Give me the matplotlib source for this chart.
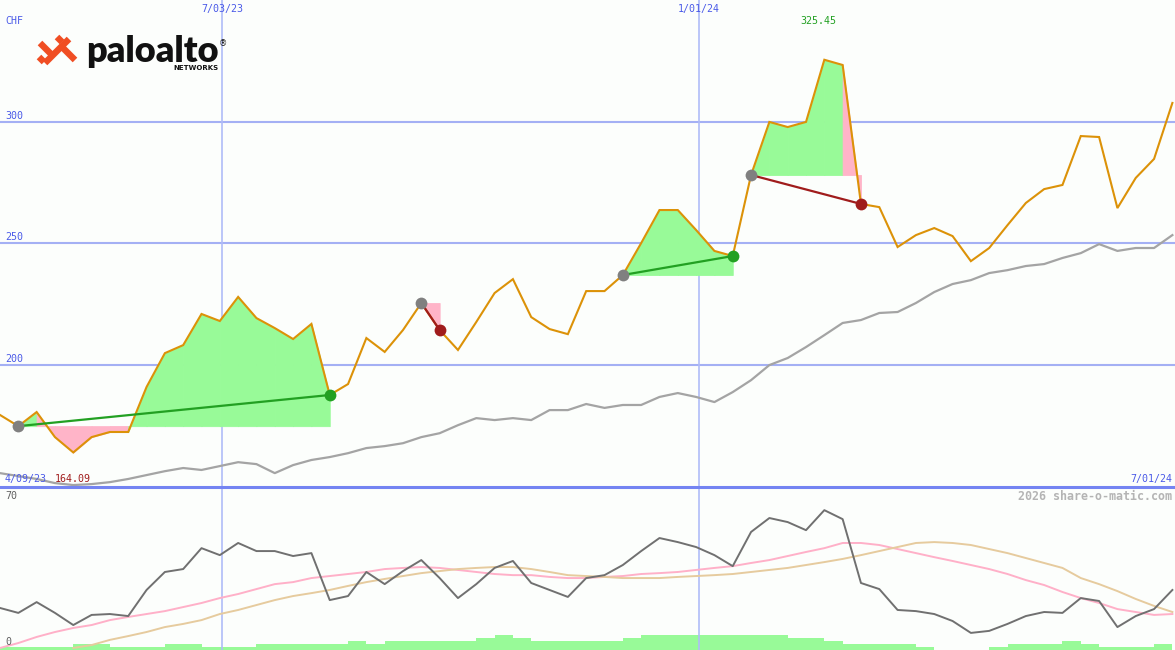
import datetime as dt
import matplotlib
matplotlib.use("Agg")
import matplotlib.pyplot as plt
import matplotlib.dates as mdates
from matplotlib.patches import Polygon

# ---------------- data ----------------
start_date = dt.date(2023, 4, 9)
end_date = dt.date(2024, 7, 1)
vline_dates = [dt.date(2023, 7, 3), dt.date(2024, 1, 1)]
currency = "CHF"
price_grid = [200, 250, 300]
osc_labels = [0, 70]
watermark = "2026 share-o-matic.com"

price = [179.5, 174.9, 180.7, 170.4, 164.09, 170.4, 172.5, 172.5, 191.0, 204.9,
         208.2, 221.0, 218.1, 228.0, 219.3, 215.2, 210.7, 216.9, 187.7, 192.2,
         211.1, 205.4, 214.4, 225.5, 214.4, 206.2, 217.7, 229.6, 235.3, 219.7,
         214.8, 212.7, 230.4, 230.4, 237.0, 250.1, 263.7, 263.7, 255.5, 246.9,
         244.8, 278.1, 299.9, 297.8, 299.9, 325.45, 323.3, 266.2, 264.9, 248.5,
         253.4, 256.3, 253.0, 242.7, 248.1, 257.5, 266.6, 272.3, 274.0, 294.1,
         293.7, 264.5, 276.9, 284.7, 307.7]

moving_avg = [155.6, 154.4, 153.2, 151.5, 150.7, 151.1, 151.9, 153.2, 154.8, 156.4,
              157.7, 156.9, 158.5, 160.1, 159.3, 155.6, 158.9, 161.0, 162.2, 163.8,
              165.9, 166.7, 167.9, 170.4, 172.0, 175.3, 178.2, 177.4, 178.2, 177.4,
              181.5, 181.5, 184.0, 182.4, 183.6, 183.6, 186.9, 188.5, 186.9, 184.8,
              188.9, 193.8, 200.0, 202.9, 207.4, 212.3, 217.3, 218.5, 221.4, 221.8,
              225.5, 230.0, 233.3, 234.9, 237.8, 239.0, 240.7, 241.5, 244.0, 246.0,
              249.7, 246.9, 248.1, 248.1, 253.4]

oscillator = [17.8, 15.6, 20.4, 15.6, 10.2, 14.7, 15.1, 14.2, 25.8, 33.8,
              35.1, 44.4, 41.3, 46.7, 43.1, 43.1, 40.9, 42.2, 21.3, 23.1,
              33.8, 28.4, 34.2, 39.1, 31.1, 22.2, 28.4, 35.6, 38.7, 28.9,
              25.8, 22.7, 31.1, 32.4, 36.9, 43.1, 48.9, 47.1, 44.9, 41.3,
              36.4, 51.6, 57.8, 56.0, 52.4, 61.3, 57.3, 28.9, 26.2, 16.9,
              16.4, 15.1, 12.0, 6.7, 7.6, 10.7, 14.2, 16.0, 15.6, 22.2,
              20.9, 9.3, 14.2, 17.3, 25.8]

osc_fast = [0.0, 2.2, 4.9, 7.1, 8.9, 10.2, 12.4, 13.8, 15.1, 16.4,
            18.2, 20.0, 22.2, 24.0, 26.2, 28.4, 29.3, 31.1, 32.0, 32.9,
            33.8, 35.1, 35.6, 36.0, 35.6, 34.7, 33.8, 32.9, 32.4, 32.4,
            31.6, 31.1, 31.1, 31.6, 32.0, 32.9, 33.3, 33.8, 34.7, 35.6,
            36.4, 37.8, 39.1, 40.9, 42.7, 44.4, 46.7, 46.7, 45.8, 44.0,
            42.2, 40.4, 38.7, 36.9, 35.1, 32.9, 30.2, 28.0, 24.9, 22.2,
            20.0, 17.3, 16.0, 14.7, 15.1]

osc_slow = [None, None, None, None, 0.0, 1.3, 3.6, 5.3, 7.1, 9.3,
            10.7, 12.4, 15.1, 16.9, 19.1, 21.3, 23.1, 24.4, 25.8, 27.6,
            29.3, 30.7, 32.0, 33.3, 34.2, 35.1, 35.6, 36.0, 36.0, 35.1,
            33.8, 32.4, 32.0, 31.6, 31.1, 31.1, 31.1, 31.6, 32.0, 32.4,
            32.9, 33.8, 34.7, 35.6, 36.9, 38.2, 39.6, 41.3, 43.1, 44.9,
            46.7, 47.1, 46.7, 45.8, 44.0, 42.2, 40.0, 37.8, 35.6, 31.1,
            28.4, 25.3, 21.8, 18.7, 16.0]

volume = [1, 1, 1, 1, 2, 2, 1, 1, 1, 2, 2, 1, 1, 1, 2, 2, 2, 2, 2, 3,
          2, 3, 3, 3, 3, 3, 4, 5, 4, 3, 3, 3, 3, 3, 4, 5, 5, 5, 5, 5,
          5, 5, 5, 4, 4, 3, 2, 2, 2, 2, 1, 0, 0, 0, 1, 2, 2, 2, 3, 2,
          1, 1, 1, 2]

trades = [(1, 18), (23, 24), (34, 40), (41, 47)]  # (entry week, exit week)

# ---------------- style ----------------
W, H = 1175, 650
BG = "#fcfefc"
BLUE_TXT = "#4a5ae8"
GRID = "#a4b0f4"
VGRID = "#b0bcf8"
ORANGE = "#dc9208"
GREEN_FILL = "#98fa98"
PINK_FILL = "#ffb4c8"
GREEN = "#22a022"
RED = "#a01c1c"
MONO = "DejaVu Sans Mono"
FS = 7.2

fig = plt.figure(figsize=(W / 100, H / 100), dpi=100, facecolor=BG)


def fx(x):
    return x / W


def fy(y):
    return 1 - y / H


ax = fig.add_axes([0, fy(487), 1, 487 / H])
ax2 = fig.add_axes([0, 0, 1, (H - 487) / H])
for a in (ax, ax2):
    a.set_facecolor(BG)
    a.set_axis_off()

dates = [start_date + dt.timedelta(days=7 * i) for i in range(len(price))]
xd = mdates.date2num(dates)
x0, x1 = mdates.date2num(start_date), mdates.date2num(end_date)
YLO, YHI = 149.9, 350.0

# ---- main panel ----
ax.set_xlim(x0, x1)
ax.set_ylim(YLO, YHI)
for g in price_grid:
    ax.axhline(g, color=GRID, lw=1.5, zorder=1)
for vd in vline_dates:
    ax.axvline(mdates.date2num(vd), color=VGRID, lw=1.2, zorder=1)
    ax2.axvline(mdates.date2num(vd), color=VGRID, lw=1.2, zorder=1)

for a_i, b_i in trades:
    ref = price[a_i]
    for i in range(a_i, b_i):
        col = GREEN_FILL if price[i + 1] >= ref else PINK_FILL
        ax.fill_between(xd[i:i + 2], price[i:i + 2], ref, facecolor=col,
                        edgecolor=col, lw=0.6, zorder=2)

ax.plot(xd, moving_avg, color="#a4a4a4", lw=1.6, zorder=3)
ax.plot(xd, price, color=ORANGE, lw=1.5, zorder=4, solid_joinstyle="miter")

for a_i, b_i in trades:
    win = price[b_i] >= price[a_i]
    col = GREEN if win else RED
    ax.plot([xd[a_i], xd[b_i]], [price[a_i], price[b_i]], color=col, lw=1.6, zorder=5)
    ax.plot(xd[a_i], price[a_i], "o", color="#808080", ms=8.5, mew=0, zorder=6)
    ax.plot(xd[b_i], price[b_i], "o", color=col, ms=8.5, mew=0, zorder=6)

# boundary between panels
fig.add_artist(plt.Line2D([0, 1], [fy(487), fy(487)], color="#7484f2", lw=2.2,
                          transform=fig.transFigure))

# ---- lower panel ----
ax2.set_xlim(x0, x1)
ax2.set_ylim(-0.9, 71.6)
ax3 = ax2.twinx()
ax3.set_axis_off()
ax3.set_ylim(0, (H - 487) / 3)
ax3.bar(xd[:-1], volume, width=7, align="edge", color=GREEN_FILL, lw=0, zorder=1)
osc_slow_vals = [float("nan") if v is None else v for v in osc_slow]
ax2.plot(xd, osc_fast, color="#ffb0c8", lw=1.4, zorder=3)
ax2.plot(xd, osc_slow_vals, color="#e6cb9e", lw=1.4, zorder=3)
ax2.plot(xd, oscillator, color="#707070", lw=1.4, zorder=4)
ax2.set_zorder(ax3.get_zorder() + 1)
ax2.patch.set_visible(False)


# ---------------- texts ----------------
def txt(x, y, s, color=BLUE_TXT, ha="left", size=FS, **kw):
    fig.text(fx(x), fy(y), s, color=color, ha=ha, va="center", fontsize=size,
             family=MONO, **kw)


def dlabel(d):
    return f"{d.month}/{d.day:02d}/{d.year % 100:02d}"


txt(5, 21, currency)
for vd in vline_dates:
    xpix = (mdates.date2num(vd) - x0) / (x1 - x0) * W
    txt(xpix, 9, dlabel(vd), ha="center")
for g in price_grid:
    ypix = (YHI - g) / (YHI - YLO) * 487
    txt(5, ypix - 6, f"{g}")
imax = price.index(max(price))
imin = price.index(min(price))
xmax_pix = (xd[imax] - x0) / (x1 - x0) * W
txt(xmax_pix - 6, 21, f"{price[imax]:.2f}", color=GREEN, ha="center")
txt(5, 479, dlabel(start_date))
txt(55, 479, f"{price[imin]:.2f}", color=RED)
txt(1172, 479, dlabel(end_date), ha="right")
txt(1172, 496, watermark, color="#b4b4b4", ha="right", size=8.4, weight="bold")
txt(5, 496, f"{osc_labels[1]}", color="#606060")
txt(5, 642, f"{osc_labels[0]}", color="#606060")

# ---------------- logo ----------------
LOGO = "#f04e23"


def bar(xa, ya, xb, yb, t=6.5):
    dx, dy = xb - xa, yb - ya
    n = (dx * dx + dy * dy) ** 0.5
    px, py = -dy / n * t / 2, dx / n * t / 2
    pts = [(xa + px, ya + py), (xb + px, yb + py), (xb - px, yb - py), (xa - px, ya - py)]
    fig.add_artist(Polygon([(fx(p), fy(q)) for p, q in pts], closed=True,
                           transform=fig.transFigure, color=LOGO, lw=0))


bar(40, 43, 51, 54)
bar(45, 63, 69, 39)
bar(62, 47, 75, 60)
bar(39, 57, 44, 62)
bar(57, 37, 62, 42)

fig.text(fx(86), fy(62), "paloalto", fontsize=26, weight="heavy", family="Lato",
         color="#111111", ha="left", va="baseline")
fig.text(fx(219), fy(70), "NETWORKS", fontsize=5, weight="bold", family="DejaVu Sans",
         color="#111111", ha="right", va="baseline")
fig.text(fx(223), fy(44), "®", fontsize=6, family="DejaVu Sans", color="#111111",
         ha="center", va="center")

fig.savefig("out.png", dpi=100, facecolor=BG)
